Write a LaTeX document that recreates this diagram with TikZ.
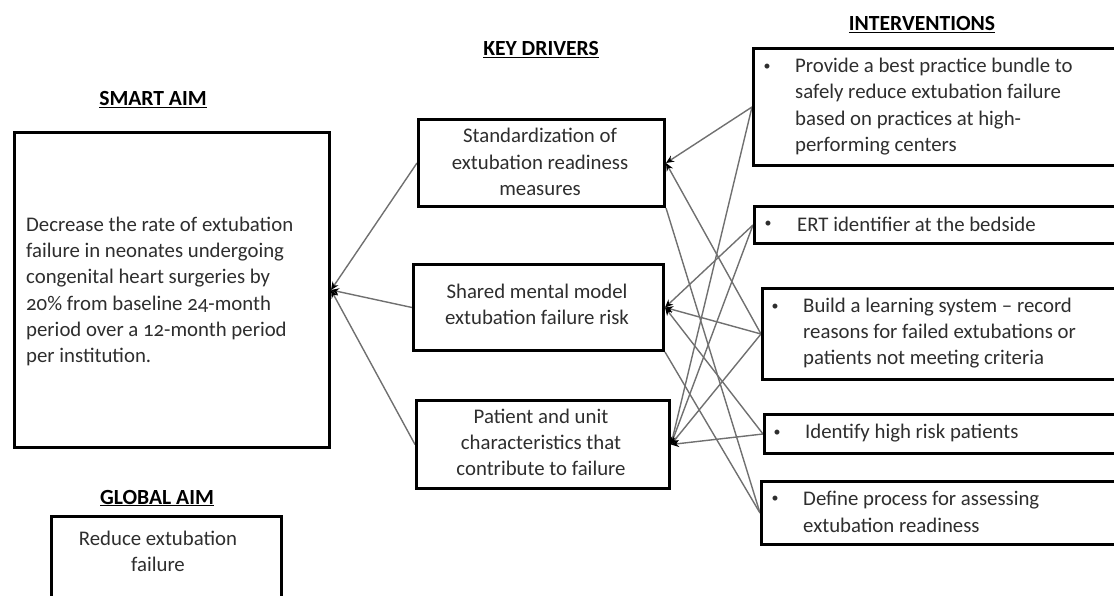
\documentclass[tikz,border=0pt]{standalone}
\usepackage{fontspec}
\setmainfont{Carlito}[Numbers=OldStyle]
\usetikzlibrary{arrows.meta,backgrounds}
\definecolor{txt}{HTML}{2E2E2E}
\definecolor{conn}{HTML}{707070}
\begin{document}
\begin{tikzpicture}[x=1pt,y=-1pt,
  box/.style={draw=black,line width=3pt,fill=white,inner sep=0pt,anchor=north west},
  body/.style={font=\fontsize{20.8}{26.3}\selectfont,text=txt,inner sep=0pt},
  bul/.style={font=\fontsize{14}{16}\selectfont,text=txt,inner sep=0pt},
  head/.style={font=\fontsize{21.6}{24}\selectfont\bfseries,text=black,inner sep=0pt,anchor=base},
  link/.style={draw=conn,line width=1.4pt},
  arr/.style={link,-{Stealth[length=8pt,width=7pt,black]}}]
\useasboundingbox (0,0) rectangle (1114,596);
\clip (0,0) rectangle (1114,596);

% headings
\node[head] (hsa) at (153,105.5) {\underline{SMART AIM}};
\node[head] (hkd) at (541,55.5) {\underline{KEY DRIVERS}};
\node[head] (hin) at (922,30.5) {\underline{INTERVENTIONS}};
\node[head] (hga) at (157,504) {\underline{GLOBAL AIM}};

% boxes
\node[box,minimum width=315pt,minimum height=315pt] (sa) at (13,131) {};
\node[box,minimum width=246pt,minimum height=87pt] (d1) at (417,118) {};
\node[box,minimum width=250pt,minimum height=86pt] (d2) at (412,263) {};
\node[box,minimum width=253pt,minimum height=88pt] (d3) at (415,399) {};
\node[box,minimum width=400pt,minimum height=117pt] (i1) at (752,47) {};
\node[box,minimum width=400pt,minimum height=37pt] (i2) at (753,205) {};
\node[box,minimum width=400pt,minimum height=91pt] (i3) at (761,287) {};
\node[box,minimum width=400pt,minimum height=39pt] (i4) at (763,413) {};
\node[box,minimum width=400pt,minimum height=63pt] (i5) at (760,480) {};
\node[box,minimum width=230pt,minimum height=120pt] (ga) at (50,515) {};

% texts
\node[body,align=left,anchor=west] (tsa) at (26,291.5) {Decrease the rate of extubation\\failure in neonates undergoing\\congenital heart surgeries by\\20\% from baseline 24-month\\period over a 12-month period\\per institution.};
\node[body,align=center] (td1) at (540,162) {Standardization of\\extubation readiness\\measures};
\node[body,align=center] (td2) at (537,304.5) {Shared mental model\\extubation failure risk};
\node[body,align=center] (td3) at (541,442.5) {Patient and unit\\characteristics that\\contribute to failure};
\node[body,align=center] (tga) at (158,551.5) {Reduce extubation\\failure};

\node[body,align=left,anchor=west] (ti1) at (795,106.5) {Provide a best practice bundle to\\safely reduce extubation failure\\based on practices at high-\\performing centers};
\node[body,align=left,anchor=west] (ti2) at (797,224) {ERT identifier at the bedside};
\node[body,align=left,anchor=west] (ti3) at (803,333) {Build a learning system -- record\\reasons for failed extubations or\\patients not meeting criteria};
\node[body,align=left,anchor=west] (ti4) at (805,433) {Identify high risk patients};
\node[body,align=left,anchor=west] (ti5) at (803,512) {Define process for assessing\\extubation readiness};

\node[bul] (b1) at (767,67) {•};
\node[bul] (b2) at (768,224) {•};
\node[bul] (b3) at (775,307) {•};
\node[bul] (b4) at (777,433) {•};
\node[bul] (b5) at (775,499) {•};

% connectors
\begin{pgfonlayer}{background}
\draw[arr] (d1.west) -- (sa.east);
\draw[arr] (d2.west) -- (sa.east);
\draw[arr] (d3.west) -- (sa.east);
\draw[arr] (i1.west) -- (d1.east);
\draw[arr] (i1.west) -- (d3.east);
\draw[arr] (i2.west) -- (d2.east);
\draw[arr] (i2.west) -- (d3.east);
\draw[arr] (i3.west) -- (d1.east);
\draw[arr] (i3.west) -- (d2.east);
\draw[arr] (i3.west) -- (d3.east);
\draw[arr] (i4.west) -- (d2.east);
\draw[arr] (i4.west) -- (d3.east);
\draw[link] (i5.west) -- (d1.south east);
\draw[link] (i5.west) -- (d2.south east);
\end{pgfonlayer}
\end{tikzpicture}
\end{document}
